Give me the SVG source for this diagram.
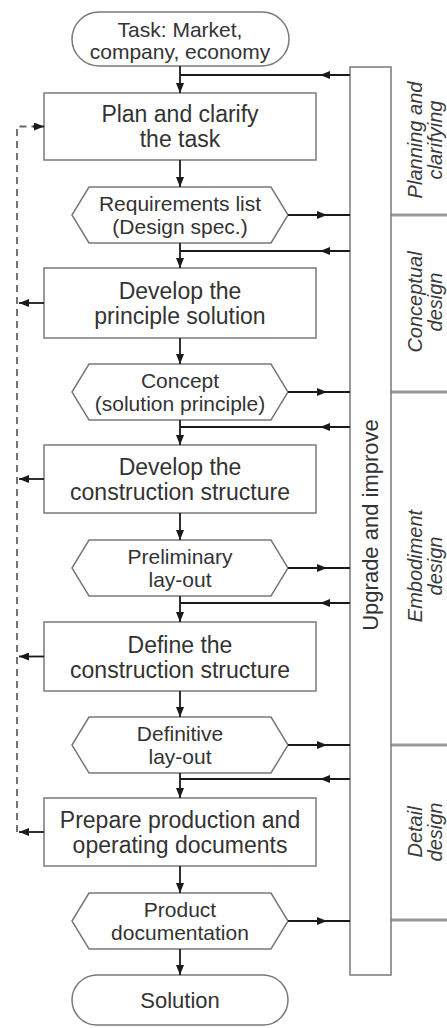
<svg xmlns="http://www.w3.org/2000/svg" width="447" height="1028" viewBox="0 0 447 1028">
<defs>
<marker id="ah" markerUnits="userSpaceOnUse" markerWidth="10" markerHeight="8" refX="10" refY="4" orient="auto"><path d="M0,0 L10,4 L0,8 z" fill="#1a1a1a"/></marker>
<style>
.nd{fill:#fff;stroke:#7a7a7a;stroke-width:1.5}
.t{font-family:"Liberation Sans",Arial,sans-serif;fill:#333;text-anchor:middle}
.bt{font-size:23px}
.ht{font-size:21px}
.ph{font-family:"Liberation Sans",Arial,sans-serif;font-style:italic;font-size:20px;fill:#3a3a3a;text-anchor:middle}
.c{fill:none;stroke:#1a1a1a;stroke-width:1.8}
.ca{fill:none;stroke:#1a1a1a;stroke-width:1.8;marker-end:url(#ah)}
.cm{fill:none;stroke:#1a1a1a;stroke-width:1.8;marker-mid:url(#ah)}
.dash{fill:none;stroke:#666;stroke-width:1.8;stroke-dasharray:7,5}
.div{stroke:#9a9a9a;stroke-width:3}
</style>
</defs>

<g id="phases">
<line class="div" x1="391" y1="215" x2="447" y2="215"/>
<line class="div" x1="391" y1="392" x2="447" y2="392"/>
<line class="div" x1="391" y1="745" x2="447" y2="745"/>
<line class="div" x1="391" y1="920" x2="447" y2="920"/>
<g transform="translate(422,140) rotate(-90)"><text class="ph" x="0" y="0">Planning and</text><text class="ph" x="0" y="20">clarifying</text></g>
<g transform="translate(422,302) rotate(-90)"><text class="ph" x="0" y="0">Conceptual</text><text class="ph" x="0" y="20">design</text></g>
<g transform="translate(422,566) rotate(-90)"><text class="ph" x="0" y="0">Embodiment</text><text class="ph" x="0" y="20">design</text></g>
<g transform="translate(422,832) rotate(-90)"><text class="ph" x="0" y="0">Detail</text><text class="ph" x="0" y="20">design</text></g>
</g>

<g id="upgrade">
<rect class="nd" x="350" y="67" width="41" height="908"/>
<text class="t" font-size="22" transform="translate(378,525) rotate(-90)">Upgrade and improve</text>
</g>

<g id="task">
<rect class="nd" x="72" y="12" width="217" height="54" rx="27"/>
<text class="t ht" x="180" y="36.5">Task: Market,</text>
<text class="t ht" x="180" y="59">company, economy</text>
</g>

<g id="plan">
<rect class="nd" x="44" y="93" width="272" height="67"/>
<text class="t bt" x="180" y="122">Plan and clarify</text>
<text class="t bt" x="180" y="147">the task</text>
</g>

<g id="req">
<polygon class="nd" points="72,215 89,187 271,187 288,215 271,243 89,243"/>
<text class="t ht" x="180" y="210.5">Requirements list</text>
<text class="t ht" x="180" y="233.5">(Design spec.)</text>
</g>

<g id="principle">
<rect class="nd" x="44" y="268" width="272" height="70"/>
<text class="t bt" x="180" y="299">Develop the</text>
<text class="t bt" x="180" y="324">principle solution</text>
</g>

<g id="concept">
<polygon class="nd" points="72,392 89,364 271,364 288,392 271,420 89,420"/>
<text class="t ht" x="180" y="387.5">Concept</text>
<text class="t ht" x="180" y="410.5">(solution principle)</text>
</g>

<g id="develop">
<rect class="nd" x="44" y="445" width="272" height="68"/>
<text class="t bt" x="180" y="475">Develop the</text>
<text class="t bt" x="180" y="500">construction structure</text>
</g>

<g id="prelim">
<polygon class="nd" points="72,568 89,540 271,540 288,568 271,596 89,596"/>
<text class="t ht" x="180" y="563.5">Preliminary</text>
<text class="t ht" x="180" y="586.5">lay-out</text>
</g>

<g id="define">
<rect class="nd" x="44" y="622" width="272" height="69"/>
<text class="t bt" x="180" y="652.5">Define the</text>
<text class="t bt" x="180" y="677.5">construction structure</text>
</g>

<g id="definitive">
<polygon class="nd" points="72,745 89,717 271,717 288,745 271,773 89,773"/>
<text class="t ht" x="180" y="740.5">Definitive</text>
<text class="t ht" x="180" y="763.5">lay-out</text>
</g>

<g id="prepare">
<rect class="nd" x="44" y="798" width="272" height="68"/>
<text class="t bt" x="180" y="828">Prepare production and</text>
<text class="t bt" x="180" y="853">operating documents</text>
</g>

<g id="product">
<polygon class="nd" points="72,921 89,893 271,893 288,921 271,949 89,949"/>
<text class="t ht" x="180" y="916.5">Product</text>
<text class="t ht" x="180" y="939.5">documentation</text>
</g>

<g id="solution">
<rect class="nd" x="72" y="975" width="216" height="50" rx="25"/>
<text class="t" font-size="22" x="180" y="1008">Solution</text>
</g>

<g id="connectors">
<path class="ca" d="M180,66 V93"/>
<path class="ca" d="M180,160 V187"/>
<path class="ca" d="M180,243 V268"/>
<path class="ca" d="M180,338 V364"/>
<path class="ca" d="M180,420 V445"/>
<path class="ca" d="M180,513 V540"/>
<path class="ca" d="M180,596 V622"/>
<path class="ca" d="M180,691 V717"/>
<path class="ca" d="M180,773 V798"/>
<path class="ca" d="M180,866 V893"/>
<path class="ca" d="M180,949 V975"/>
<path class="cm" d="M350,75 L320,75 L180,75"/>
<path class="cm" d="M350,251 L320,251 L180,251"/>
<path class="cm" d="M350,427 L320,427 L180,427"/>
<path class="cm" d="M350,603 L320,603 L180,603"/>
<path class="cm" d="M350,779 L320,779 L180,779"/>
<path class="cm" d="M288,215 L327,215 L350,215"/>
<path class="cm" d="M288,392 L327,392 L350,392"/>
<path class="cm" d="M288,568 L327,568 L350,568"/>
<path class="cm" d="M288,745 L327,745 L350,745"/>
<path class="cm" d="M288,921 L327,921 L350,921"/>
<path class="dash" d="M17,832 V126.5 H34"/>
<path class="ca" d="M33,126.5 H44"/>
<path class="ca" d="M44,303 H19"/>
<path class="ca" d="M44,479 H19"/>
<path class="ca" d="M44,656.5 H19"/>
<path class="ca" d="M44,832 H19"/>
</g>
</svg>
